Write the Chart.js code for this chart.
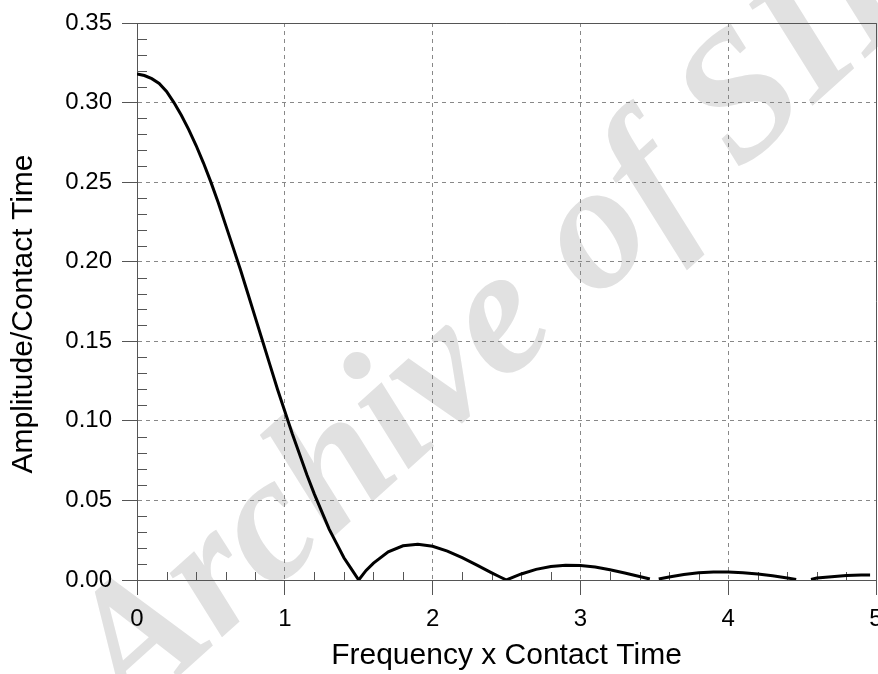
<!DOCTYPE html>
<html>
<head>
<meta charset="utf-8">
<script src="https://cdn.jsdelivr.net/npm/chart.js@4.4.0/dist/chart.umd.min.js"></script>
<style>
  html, body { margin: 0; padding: 0; background: #fff; overflow: hidden; }
  #wrap { width: 878px; height: 674px; }
</style>
</head>
<body>
<div id="wrap"><canvas id="chart" width="878" height="674"></canvas></div>
<script>
// values (x = frequency x contact time)
const freq = [0, 0.05, 0.1, 0.15, 0.2, 0.25, 0.3, 0.35, 0.4, 0.45, 0.5, 0.55, 0.6, 0.65, 0.7, 0.75,
  0.8, 0.85, 0.9, 0.95, 1.0, 1.05, 1.1, 1.15, 1.2, 1.25, 1.3, 1.35, 1.4, 1.45, 1.5, 1.55,
  1.6, 1.7, 1.8, 1.9, 2.0, 2.1, 2.2, 2.3, 2.4, 2.45, 2.5, 2.55,
  2.6, 2.7, 2.8, 2.9, 3.0, 3.1, 3.2, 3.3, 3.4, 3.47, 3.5, 3.53,
  3.6, 3.7, 3.8, 3.9, 4.0, 4.1, 4.2, 4.3, 4.4, 4.46, 4.5, 4.56,
  4.6, 4.7, 4.8, 4.9, 4.96];
const amp = [0.318, 0.317, 0.315, 0.312, 0.307, 0.300, 0.292, 0.283, 0.273, 0.262, 0.250, 0.237, 0.223, 0.209, 0.195, 0.180,
  0.165, 0.150, 0.135, 0.120, 0.106, 0.092, 0.079, 0.066, 0.054, 0.043, 0.032, 0.023, 0.014, 0.007, 0.000, 0.006,
  0.0106, 0.0177, 0.0215, 0.0225, 0.0212, 0.0182, 0.0140, 0.0093, 0.0045, 0.0022, 0.000, 0.0020,
  0.0038, 0.0067, 0.0085, 0.0093, 0.0091, 0.0081, 0.0064, 0.0044, 0.0022, 0.0006, null, 0.0006,
  0.0019, 0.0035, 0.0045, 0.0051, 0.0050, 0.0046, 0.0037, 0.0026, 0.0013, 0.0004, null, 0.0004,
  0.0012, 0.0021, 0.0028, 0.0032, 0.0032];

const xTicks = [0, 1, 2, 3, 4, 5];
const xTickLabels = ['0', '1', '2', '3', '4', '5'];
const yTicks = [0, 0.05, 0.10, 0.15, 0.20, 0.25, 0.30, 0.35];
const yTickLabels = ['0.00', '0.05', '0.10', '0.15', '0.20', '0.25', '0.30', '0.35'];
const xTitle = 'Frequency x Contact Time';
const yTitle = 'Amplitude/Contact Time';
const watermark = 'Archive of SID';

const FONT = '"Liberation Sans", Arial, sans-serif';

// white background, watermark, minor ticks and the top/right frame
const framePlugin = {
  id: 'frame',
  beforeDraw(chart) {
    const ctx = chart.ctx;
    ctx.save();
    ctx.fillStyle = '#fff';
    ctx.fillRect(0, 0, chart.width, chart.height);
    ctx.translate(130, 720);
    ctx.rotate(-42 * Math.PI / 180);
    ctx.font = 'italic bold 180px "Liberation Serif", serif';
    ctx.fillStyle = '#e1e1e1';
    ctx.fillText(watermark, 0, 0);
    ctx.restore();
  },
  beforeDatasetsDraw(chart) {
    const { ctx, chartArea: a, scales: { x, y } } = chart;
    ctx.save();
    ctx.strokeStyle = '#555';
    ctx.lineWidth = 1;
    ctx.beginPath();
    for (let i = 1; i < 35; i++) {
      if (i % 5 === 0) continue;
      const py = Math.round(y.getPixelForValue(i / 100)) + 0.5;
      ctx.moveTo(a.left, py);
      ctx.lineTo(a.left + 10, py);
    }
    for (let i = 1; i < 25; i++) {
      if (i % 5 === 0) continue;
      const px = Math.round(x.getPixelForValue(i / 5)) + 0.5;
      ctx.moveTo(px, a.bottom);
      ctx.lineTo(px, a.bottom - 8);
    }
    ctx.moveTo(a.left, Math.round(a.top) + 0.5);
    ctx.lineTo(Math.round(a.right) + 0.5, Math.round(a.top) + 0.5);
    ctx.lineTo(Math.round(a.right) + 0.5, Math.round(a.bottom));
    ctx.stroke();
    ctx.restore();
  }
};

new Chart(document.getElementById('chart'), {
  type: 'line',
  data: {
    datasets: [{
      data: freq.map((f, i) => ({ x: f, y: amp[i] })),
      borderColor: '#000',
      borderWidth: 3,
      pointRadius: 0,
      tension: 0,
      spanGaps: false,
      fill: false
    }]
  },
  options: {
    responsive: false,
    devicePixelRatio: 1,
    animation: false,
    layout: { padding: { top: 23, right: 2, left: 0, bottom: 0 } },
    plugins: { legend: { display: false }, tooltip: { enabled: false } },
    scales: {
      x: {
        type: 'linear',
        min: 0,
        max: 5,
        afterBuildTicks: s => { s.ticks = xTicks.map(v => ({ value: v })); },
        afterFit: s => { s.height = 94; s.paddingLeft = 0; s.paddingRight = 0; },
        ticks: {
          padding: 10,
          color: '#000',
          font: { family: FONT, size: 24 },
          maxRotation: 0,
          callback: (v, i) => xTickLabels[i]
        },
        grid: { color: '#888', lineWidth: 1, tickLength: 15, tickColor: '#555' },
        border: { display: true, color: '#555', width: 1, dash: [4, 4] },
        title: {
          display: true,
          text: xTitle,
          color: '#000',
          font: { family: FONT, size: 30 },
          padding: { top: 0, bottom: 0 }
        }
      },
      y: {
        type: 'linear',
        min: 0,
        max: 0.35,
        afterBuildTicks: s => { s.ticks = yTicks.map(v => ({ value: v })); },
        afterFit: s => { s.width = 137; s.paddingTop = 0; s.paddingBottom = 0; },
        ticks: {
          padding: 10,
          color: '#000',
          font: { family: FONT, size: 24 },
          callback: (v, i) => yTickLabels[i]
        },
        grid: { color: '#888', lineWidth: 1, tickLength: 15, tickColor: '#555' },
        border: { display: true, color: '#555', width: 1, dash: [4, 4] },
        title: {
          display: true,
          text: yTitle + '   ',
          color: '#000',
          font: { family: FONT, size: 30 },
          padding: { top: 6, bottom: 0 }
        }
      }
    }
  },
  plugins: [framePlugin]
});
</script>
</body>
</html>
